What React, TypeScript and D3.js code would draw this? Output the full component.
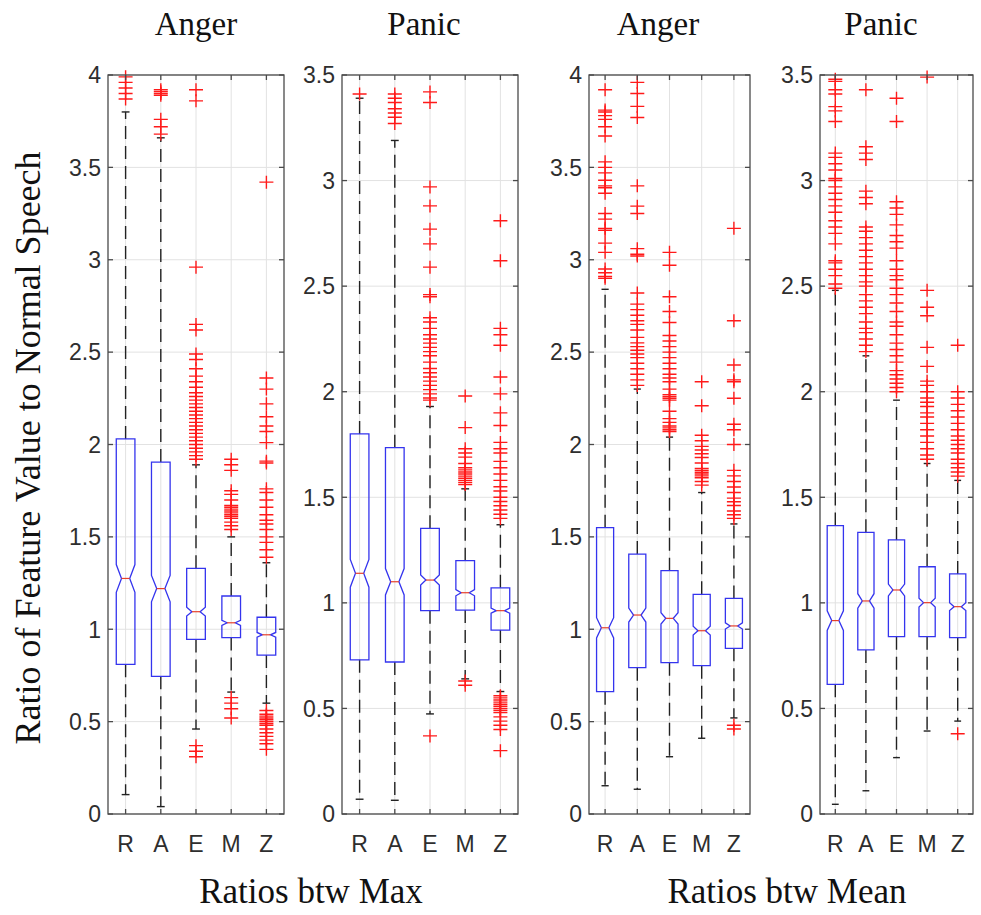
import React from 'react';
import * as d3 from 'd3';

// Feature ratios drawn per box: R, A, E, M, Z
const categories = ['R', 'A', 'E', 'M', 'Z'];
const panelTitles = ['Anger', 'Panic', 'Anger', 'Panic'];
const groupLabels = ['Ratios btw Max', 'Ratios btw Mean'];
const yAxisLabel = 'Ratio of Feature Value to Normal Speech';
const yLimits = [4, 3.5, 4, 3.5];
const sampleCount = 650;

// Summary per box: [lower whisker, q1, median, q3, upper whisker]
const maxAngerStats = [
  [0.105, 0.81, 1.275, 2.03, 3.8],
  [0.04, 0.745, 1.22, 1.905, 3.66],
  [0.46, 0.945, 1.095, 1.33, 1.89],
  [0.66, 0.955, 1.035, 1.18, 1.5],
  [0.6, 0.86, 0.97, 1.065, 1.36],
];
const maxPanicStats = [
  [0.07, 0.73, 1.14, 1.8, 3.39],
  [0.065, 0.72, 1.1, 1.735, 3.19],
  [0.474, 0.963, 1.108, 1.353, 1.93],
  [0.64, 0.966, 1.048, 1.2, 1.54],
  [0.58, 0.871, 0.963, 1.071, 1.37],
];
const meanAngerStats = [
  [0.153, 0.662, 1.008, 1.55, 2.84],
  [0.134, 0.792, 1.077, 1.407, 2.3],
  [0.31, 0.819, 1.059, 1.317, 2.04],
  [0.41, 0.803, 0.992, 1.189, 1.74],
  [0.52, 0.897, 1.018, 1.167, 1.57],
];
const meanPanicStats = [
  [0.046, 0.614, 0.916, 1.366, 2.48],
  [0.11, 0.777, 1.009, 1.334, 2.17],
  [0.267, 0.84, 1.061, 1.298, 1.96],
  [0.393, 0.84, 1.001, 1.171, 1.66],
  [0.44, 0.835, 0.982, 1.137, 1.58],
];

// Outlying values per box
const maxAngerOutliers = [
  [3.87, 3.9, 3.93, 3.96, 3.99],
  [3.68, 3.72, 3.76, 3.89, 3.9, 3.91, 3.92],
  [3.92, 3.86, 2.96, 2.65, 2.62, 2.49, 2.46, 2.41, 2.37, 2.34, 2.31, 2.28, 2.26, 2.24, 2.22, 2.2, 2.18, 2.16,
    2.14, 2.12, 2.1, 2.08, 2.06, 2.04, 2.02, 2.0, 1.98, 1.96, 1.94, 1.92, 0.37, 0.34, 0.31],
  [1.92, 1.89, 1.86, 1.75, 1.73, 1.7, 1.67, 1.66, 1.65, 1.64, 1.63, 1.62, 1.61, 1.6, 1.58, 1.56, 1.54,
    0.63, 0.6, 0.57, 0.52],
  [3.42, 2.36, 2.3, 2.22, 2.15, 2.1, 2.07, 2.01, 1.91, 1.9, 1.76, 1.74, 1.7, 1.66, 1.62, 1.59, 1.57, 1.54,
    1.5, 1.47, 1.43, 1.39, 0.56, 0.54, 0.53, 0.52, 0.51, 0.5, 0.49, 0.48, 0.46, 0.44, 0.42, 0.4, 0.38, 0.35],
];
const maxPanicOutliers = [
  [3.41],
  [3.27, 3.3, 3.32, 3.34, 3.37, 3.39, 3.41],
  [3.42, 3.37, 2.97, 2.88, 2.77, 2.7, 2.59, 2.46, 2.45, 2.35, 2.33, 2.3, 2.27, 2.25, 2.23, 2.21, 2.19, 2.17,
    2.14, 2.11, 2.09, 2.07, 2.05, 2.03, 2.01, 1.99, 1.97, 1.96, 0.37],
  [1.98, 1.83, 1.73, 1.71, 1.69, 1.66, 1.64, 1.63, 1.62, 1.61, 1.6, 1.59, 1.58, 1.57, 1.56, 0.63, 0.61],
  [2.81, 2.62, 2.3, 2.27, 2.22, 2.07, 1.99, 1.9, 1.84, 1.76, 1.73, 1.71, 1.67, 1.64, 1.61, 1.58, 1.55, 1.53,
    1.5, 1.48, 1.46, 1.44, 1.42, 1.4, 0.56, 0.55, 0.54, 0.53, 0.52, 0.51, 0.5, 0.49, 0.48, 0.46, 0.44, 0.42,
    0.4, 0.3],
];
const meanAngerOutliers = [
  [3.92, 3.81, 3.8, 3.78, 3.76, 3.72, 3.67, 3.53, 3.5, 3.47, 3.43, 3.4, 3.39, 3.36, 3.25, 3.22, 3.17, 3.16,
    3.09, 3.04, 2.95, 2.93, 2.91, 2.9],
  [3.96, 3.9, 3.83, 3.77, 3.4, 3.29, 3.25, 3.06, 3.03, 3.02, 2.82, 2.76, 2.73, 2.7, 2.67, 2.65, 2.62, 2.58,
    2.55, 2.53, 2.51, 2.49, 2.47, 2.44, 2.41, 2.38, 2.35, 2.32],
  [3.04, 2.97, 2.8, 2.72, 2.66, 2.59, 2.56, 2.53, 2.5, 2.47, 2.44, 2.41, 2.38, 2.36, 2.34, 2.3, 2.27, 2.26,
    2.25, 2.24, 2.18, 2.14, 2.12, 2.1, 2.09, 2.08, 2.07],
  [2.34, 2.21, 2.05, 2.02, 1.99, 1.97, 1.95, 1.93, 1.9, 1.87, 1.86, 1.85, 1.84, 1.83, 1.82, 1.8, 1.78],
  [3.17, 2.67, 2.43, 2.35, 2.34, 2.25, 2.11, 2.08, 2.0, 1.86, 1.83, 1.8, 1.77, 1.74, 1.71, 1.69, 1.67, 1.64,
    1.62, 1.6, 0.48, 0.46],
];
const meanPanicOutliers = [
  [3.48, 3.47, 3.43, 3.41, 3.35, 3.33, 3.28, 3.13, 3.11, 3.08, 3.05, 3.01, 3.0, 2.97, 2.94, 2.91, 2.88, 2.85,
    2.81, 2.78, 2.75, 2.7, 2.62, 2.61, 2.58, 2.55, 2.51, 2.49],
  [3.43, 3.16, 3.13, 3.1, 2.95, 2.92, 2.89, 2.78, 2.76, 2.73, 2.7, 2.67, 2.64, 2.61, 2.58, 2.55, 2.52, 2.5,
    2.46, 2.43, 2.4, 2.37, 2.33, 2.3, 2.28, 2.25, 2.22, 2.19],
  [3.39, 3.28, 2.9, 2.87, 2.84, 2.79, 2.74, 2.71, 2.68, 2.62, 2.58, 2.55, 2.53, 2.49, 2.46, 2.42, 2.38, 2.33,
    2.31, 2.27, 2.23, 2.2, 2.17, 2.14, 2.1, 2.08, 2.06, 2.04, 2.02, 2.0],
  [3.49, 2.48, 2.4, 2.36, 2.21, 2.12, 2.05, 2.03, 2.0, 1.97, 1.95, 1.93, 1.9, 1.88, 1.85, 1.82, 1.79, 1.76,
    1.73, 1.7, 1.68],
  [2.22, 2.0, 1.97, 1.94, 1.91, 1.88, 1.85, 1.82, 1.79, 1.77, 1.75, 1.73, 1.71, 1.68, 1.66, 1.64, 1.62, 1.6,
    0.38],
];

const panelStats = [maxAngerStats, maxPanicStats, meanAngerStats, meanPanicStats];
const panelOutliers = [maxAngerOutliers, maxPanicOutliers, meanAngerOutliers, meanPanicOutliers];

// Layout
const W = 981;
const H = 915;
const plotTop = 75;
const plotBottom = 814;
const panelX: [number, number][] = [
  [108, 284],
  [342, 518],
  [589, 750],
  [820, 973],
];
const titleX = [196, 424, 658, 881];
const groupLabelX = [311, 787];

const serif = '"Liberation Serif", "Times New Roman", serif';
const sans = '"Liberation Sans", Arial, Helvetica, sans-serif';
const axisColor = '#4a4a4a';
const gridColor = '#e2e2e2';
const boxColor = '#3434ee';
const outlierColor = '#ff1a1a';
const labelColor = '#2e2e2e';

function Panel({ index }: { index: number }) {
  const [x0, x1] = panelX[index];
  const stats = panelStats[index];
  const outliers = panelOutliers[index];
  const x = d3.scaleLinear().domain([0.5, categories.length + 0.5]).range([x0, x1]);
  const y = d3.scaleLinear().domain([0, yLimits[index]]).range([plotBottom, plotTop]);
  const ticks = d3.range(0, yLimits[index] + 1e-9, 0.5);
  const step = x(2) - x(1);
  const bw = step * 0.53;
  const capW = bw * 0.42;
  const tickLen = 5;

  return (
    <g>
      {/* grid */}
      {ticks.map((t) => (
        <line key={'gy' + t} x1={x0} x2={x1} y1={y(t)} y2={y(t)} stroke={gridColor} strokeWidth={1} />
      ))}
      {categories.map((c, i) => (
        <line key={'gx' + c} x1={x(i + 1)} x2={x(i + 1)} y1={plotTop} y2={plotBottom} stroke={gridColor} strokeWidth={1} />
      ))}

      {/* boxes */}
      {stats.map((s, i) => {
        const [lo, q1, med, q3, hi] = s;
        const cx = x(i + 1);
        const notch = (1.57 * (q3 - q1)) / Math.sqrt(sampleCount);
        const l = cx - bw / 2;
        const r = cx + bw / 2;
        const nl = cx - bw * 0.22;
        const nr = cx + bw * 0.22;
        const path = d3.path();
        path.moveTo(l, y(q1));
        path.lineTo(l, y(med - notch));
        path.lineTo(nl, y(med));
        path.lineTo(l, y(med + notch));
        path.lineTo(l, y(q3));
        path.lineTo(r, y(q3));
        path.lineTo(r, y(med + notch));
        path.lineTo(nr, y(med));
        path.lineTo(r, y(med - notch));
        path.lineTo(r, y(q1));
        path.closePath();
        return (
          <g key={'b' + i}>
            <line x1={cx} x2={cx} y1={y(q3)} y2={y(hi)} stroke="#222" strokeWidth={1.4} strokeDasharray="13 7" />
            <line x1={cx} x2={cx} y1={y(q1)} y2={y(lo)} stroke="#222" strokeWidth={1.4} strokeDasharray="13 7" />
            <line x1={cx - capW / 2} x2={cx + capW / 2} y1={y(hi)} y2={y(hi)} stroke="#222" strokeWidth={1.4} />
            <line x1={cx - capW / 2} x2={cx + capW / 2} y1={y(lo)} y2={y(lo)} stroke="#222" strokeWidth={1.4} />
            <path d={path.toString()} fill="none" stroke={boxColor} strokeWidth={1.3} />
            <line x1={nl} x2={nr} y1={y(med)} y2={y(med)} stroke="#e8402a" strokeWidth={1.2} />
          </g>
        );
      })}

      {/* outliers */}
      {outliers.map((vals, i) =>
        vals.map((v, j) => {
          const cx = x(i + 1);
          const cy = y(v);
          return (
            <path
              key={'o' + i + '-' + j}
              d={`M${cx - 7},${cy}H${cx + 7}M${cx},${cy - 6.5}V${cy + 6.5}`}
              stroke={outlierColor}
              strokeWidth={1.4}
              fill="none"
            />
          );
        })
      )}

      {/* axes box and ticks */}
      <rect x={x0} y={plotTop} width={x1 - x0} height={plotBottom - plotTop} fill="none" stroke={axisColor} strokeWidth={1.3} />
      {ticks.map((t) => (
        <g key={'ty' + t}>
          <line x1={x0} x2={x0 + tickLen} y1={y(t)} y2={y(t)} stroke={axisColor} strokeWidth={1.3} />
          <line x1={x1} x2={x1 - tickLen} y1={y(t)} y2={y(t)} stroke={axisColor} strokeWidth={1.3} />
          <text x={x0 - 7} y={y(t)} dy="0.36em" textAnchor="end" fontFamily={sans} fontSize={23} fill={labelColor}>
            {String(t)}
          </text>
        </g>
      ))}
      {categories.map((c, i) => (
        <g key={'tx' + c}>
          <line x1={x(i + 1)} x2={x(i + 1)} y1={plotBottom} y2={plotBottom - tickLen} stroke={axisColor} strokeWidth={1.3} />
          <line x1={x(i + 1)} x2={x(i + 1)} y1={plotTop} y2={plotTop + tickLen} stroke={axisColor} strokeWidth={1.3} />
          <text x={x(i + 1)} y={852} textAnchor="middle" fontFamily={sans} fontSize={23} fill={labelColor}>
            {c}
          </text>
        </g>
      ))}

      <text x={titleX[index]} y={35} textAnchor="middle" fontFamily={serif} fontSize={33} fill="#111">
        {panelTitles[index]}
      </text>
    </g>
  );
}

export default function App() {
  return (
    <svg
      width={W}
      height={H}
      viewBox={`0 0 ${W} ${H}`}
      style={{ position: 'absolute', left: 0, top: 0, background: '#fff' }}
    >
      <rect x={0} y={0} width={W} height={H} fill="#fff" />
      {panelTitles.map((_, i) => (
        <Panel key={i} index={i} />
      ))}
      <text
        transform={`translate(40,448) rotate(-90)`}
        textAnchor="middle"
        fontFamily={serif}
        fontSize={36}
        fill="#111"
      >
        {yAxisLabel}
      </text>
      {groupLabels.map((g, i) => (
        <text key={g} x={groupLabelX[i]} y={903} textAnchor="middle" fontFamily={serif} fontSize={35} fill="#111">
          {g}
        </text>
      ))}
    </svg>
  );
}
